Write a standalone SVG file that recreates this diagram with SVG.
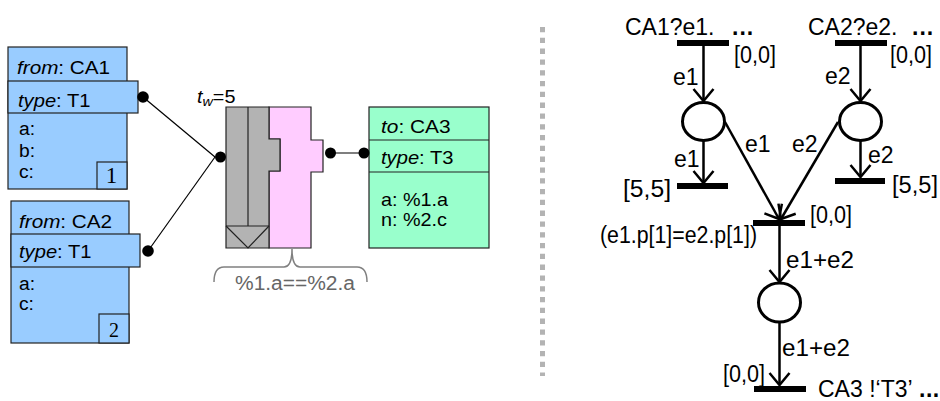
<svg xmlns="http://www.w3.org/2000/svg" width="940" height="401" viewBox="0 0 940 401">
<style>
.box{stroke:#222;stroke-width:1.2}
.blue{fill:#99ccff}
.green{fill:#99ffcc}
.lt{font-family:"Liberation Sans",Arial,sans-serif;font-size:18px;fill:#000}
.num{font-family:"Liberation Serif","Times New Roman",serif;fill:#000;text-anchor:middle}
.rt{font-family:"Liberation Sans",Arial,sans-serif;font-size:23px;fill:#000}
.arc{stroke:#000;stroke-width:2.5;fill:none;marker-end:url(#arr)}
.place{fill:#fff;stroke:#000;stroke-width:3}
.bar{fill:#000}
.dot{fill:#000}
.wire{stroke:#000;stroke-width:1.2;fill:none}
</style>
<defs>
<marker id="arr" markerUnits="userSpaceOnUse" viewBox="0 0 24 24" markerWidth="24" markerHeight="24" refX="22" refY="12" orient="auto">
<path d="M10,2 L22,12 L10,22" fill="none" stroke="#000" stroke-width="2.5"/>
</marker>
</defs>

<line x1="542.5" y1="27" x2="542.5" y2="376" stroke="#b3b3b3" stroke-width="5" stroke-dasharray="5.3 5.5"/>

<g id="ca1">
<rect class="box blue" x="8" y="47" width="119" height="142"/>
<rect class="box blue" x="8" y="81" width="130" height="32"/>
<rect class="box blue" x="97" y="162" width="30" height="27"/>
<text class="lt" transform="translate(17,74) scale(1.15,1)"><tspan font-style="italic">from</tspan>: CA1</text>
<text class="lt" transform="translate(18,107) scale(1.12,1)"><tspan font-style="italic">type</tspan>: T1</text>
<text class="lt" transform="translate(19,135) scale(1.07,1)">a:</text>
<text class="lt" transform="translate(19,157) scale(1.07,1)">b:</text>
<text class="lt" transform="translate(19,178) scale(1.07,1)">c:</text>
<text class="num" x="111.5" y="183" font-size="23">1</text>
</g>

<g id="ca2">
<rect class="box blue" x="11" y="201" width="118" height="142"/>
<rect class="box blue" x="11" y="234" width="129" height="33"/>
<rect class="box blue" x="99" y="314" width="30" height="29"/>
<text class="lt" transform="translate(19,228) scale(1.15,1)"><tspan font-style="italic">from</tspan>: CA2</text>
<text class="lt" transform="translate(19,258) scale(1.12,1)"><tspan font-style="italic">type</tspan>: T1</text>
<text class="lt" transform="translate(19,290) scale(1.07,1)">a:</text>
<text class="lt" transform="translate(19,310) scale(1.07,1)">c:</text>
<text class="num" x="114" y="337" font-size="20">2</text>
</g>

<g id="pattern">
<polygon class="box" fill="#ffccff" points="269,107 311,107 311,140 323,140 323,172 311,172 311,248 269,248 269,171 280,171 280,139 269,139"/>
<polygon class="box" fill="#b3b3b3" points="226,107 269,107 269,139 280,139 280,171 269,171 269,248 226,248"/>
<line class="box" x1="248" y1="107" x2="248" y2="226"/>
<line class="box" x1="226" y1="226" x2="269" y2="226"/>
<polyline class="box" fill="none" points="226,226 248,248 269,226"/>
<text transform="translate(197,103) scale(1.1,1)" font-family="Liberation Sans,Arial,sans-serif" font-size="18"><tspan font-style="italic">t</tspan><tspan font-style="italic" font-size="13" dy="3">w</tspan><tspan dy="-3">=5</tspan></text>
<path d="M214,282 Q214,267 224,267 L284,267 Q292,267 292,249 Q292,267 300,267 L357,267 Q367,267 367,282" fill="none" stroke="#808080" stroke-width="1.5"/>
<text x="235" y="290" font-family="Liberation Sans,Arial,sans-serif" font-size="20" fill="#666" textLength="120" lengthAdjust="spacingAndGlyphs">%1.a==%2.a</text>
</g>

<g id="ca3">
<rect class="box green" x="369" y="107" width="120" height="141"/>
<line class="box" x1="369" y1="140" x2="489" y2="140"/>
<line class="box" x1="369" y1="172" x2="489" y2="172"/>
<text class="lt" transform="translate(381,133) scale(1.16,1)"><tspan font-style="italic">to</tspan>: CA3</text>
<text class="lt" transform="translate(381,164) scale(1.12,1)"><tspan font-style="italic">type</tspan>: T3</text>
<text class="lt" transform="translate(381,206) scale(1.1,1)">a: %1.a</text>
<text class="lt" transform="translate(381,226) scale(1.1,1)">n: %2.c</text>
</g>

<g id="connectors">
<line class="wire" x1="143" y1="97" x2="215" y2="157"/>
<line class="wire" x1="148" y1="251" x2="215" y2="157"/>
<line class="wire" x1="330" y1="153" x2="364" y2="153"/>
<circle class="dot" cx="143" cy="97" r="5.8"/>
<circle class="dot" cx="148" cy="251" r="5.8"/>
<circle class="dot" cx="220.5" cy="157" r="5.5"/>
<circle class="dot" cx="330.5" cy="153" r="5.5"/>
<circle class="dot" cx="364" cy="153" r="5.5"/>
</g>

<g id="petri-connectors">
<line class="arc" x1="703.5" y1="46" x2="703.5" y2="101"/>
<line class="arc" x1="860.5" y1="46" x2="860.5" y2="101"/>
<line class="arc" x1="703.5" y1="141" x2="703.5" y2="183"/>
<line class="arc" x1="860.5" y1="141" x2="860.5" y2="177"/>
<line class="arc" x1="725" y1="122" x2="779" y2="219"/>
<line class="arc" x1="838" y1="122" x2="781" y2="219"/>
<line class="arc" x1="779.5" y1="226" x2="779.5" y2="282"/>
<line class="arc" x1="779.5" y1="322" x2="779.5" y2="385"/>
</g>

<g id="t-ca1">
<rect class="bar" x="677" y="40" width="52" height="6"/>
<text class="rt" x="625" y="35">CA1?e1.<tspan x="732" font-weight="bold" letter-spacing="1">...</tspan></text>
<text class="rt" x="734" y="63" textLength="42" lengthAdjust="spacingAndGlyphs">[0,0]</text>
</g>
<g id="t-ca2">
<rect class="bar" x="835" y="40" width="52" height="6"/>
<text class="rt" x="808" y="35">CA2?e2.<tspan x="912" font-weight="bold" letter-spacing="1">...</tspan></text>
<text class="rt" x="890" y="63" textLength="42" lengthAdjust="spacingAndGlyphs">[0,0]</text>
</g>
<g id="p1"><ellipse class="place" cx="703.5" cy="121.5" rx="21" ry="19"/></g>
<g id="p2"><ellipse class="place" cx="860.5" cy="121.5" rx="21" ry="19"/></g>
<g id="t-to1">
<rect class="bar" x="677" y="183" width="51" height="6"/>
<text class="rt" x="623" y="197" textLength="48" lengthAdjust="spacingAndGlyphs">[5,5]</text>
</g>
<g id="t-to2">
<rect class="bar" x="835" y="178" width="50" height="6"/>
<text class="rt" x="892" y="193" textLength="46" lengthAdjust="spacingAndGlyphs">[5,5]</text>
</g>
<g id="t-join">
<rect class="bar" x="753" y="220" width="52" height="6"/>
<text class="rt" x="810" y="223" textLength="42" lengthAdjust="spacingAndGlyphs">[0,0]</text>
<text class="rt" x="600" y="243" font-size="18" textLength="157" lengthAdjust="spacingAndGlyphs">(e1.p[1]=e2.p[1])</text>
</g>
<g id="p3"><ellipse class="place" cx="779.5" cy="302.5" rx="21" ry="19.5"/></g>
<g id="t-send">
<rect class="bar" x="754" y="386" width="52" height="6"/>
<text class="rt" x="723" y="382" textLength="42" lengthAdjust="spacingAndGlyphs">[0,0]</text>
<text class="rt" x="818" y="397">CA3 !‘T3’<tspan x="919" font-weight="bold" letter-spacing="0.5">...</tspan></text>
</g>

<g id="arc-labels">
<text class="rt" x="673" y="85">e1</text>
<text class="rt" x="825" y="84">e2</text>
<text class="rt" x="674" y="167">e1</text>
<text class="rt" x="868" y="163">e2</text>
<text class="rt" x="745" y="152">e1</text>
<text class="rt" x="792" y="152">e2</text>
<text class="rt" x="786" y="268" textLength="68" lengthAdjust="spacingAndGlyphs">e1+e2</text>
<text class="rt" x="782" y="356" textLength="68" lengthAdjust="spacingAndGlyphs">e1+e2</text>
</g>
</svg>
